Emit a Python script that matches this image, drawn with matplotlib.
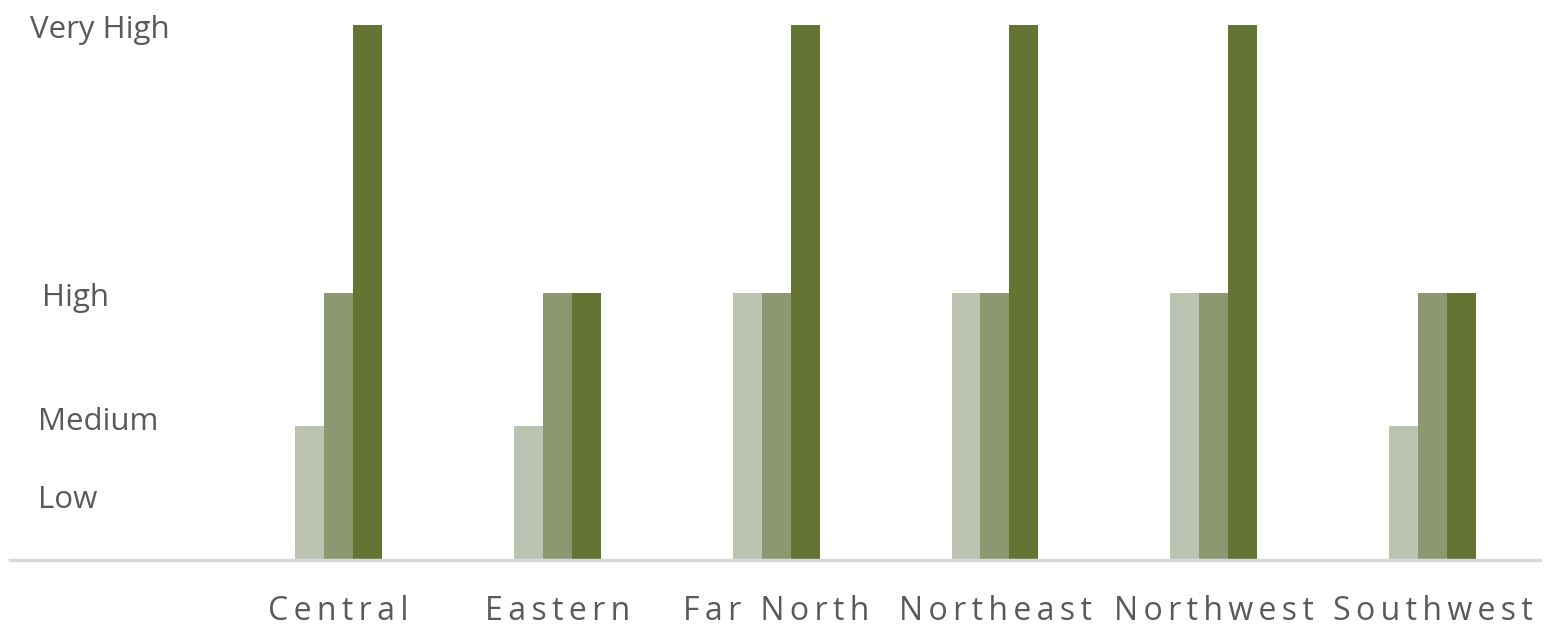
import matplotlib.pyplot as plt
import numpy as np

# Datos
regiones = ['Central', 'Eastern', 'Far North', 'Northeast', 'Northwest', 'Southwest']
serie_1 = [1, 1, 2, 2, 2, 1]
serie_2 = [2, 2, 2, 2, 2, 2]
serie_3 = [4, 2, 4, 4, 4, 2]
niveles = ['Low', 'Medium', 'High', 'Very High']
valores_niveles = [0.5, 1, 2, 4]

colores = ['#BCC3B1', '#8C9870', '#647432']
color_texto = '#5A5A5A'

plt.rcParams['font.family'] = ['Open Sans', 'DejaVu Sans']

fig = plt.figure(figsize=(15.44, 6.28), dpi=100)
ax = fig.add_axes([10 / 1544, 68 / 628, 1530 / 1544, 535 / 628])

x = np.arange(len(regiones))
ancho = 0.1324
for i, (serie, color) in enumerate(zip([serie_1, serie_2, serie_3], colores)):
    ax.bar(x + (i - 1) * ancho, serie, width=ancho, color=color, linewidth=0)

ax.set_xlim(-1.5, 5.49)
ax.set_ylim(0, 4)

# Etiquetas de niveles dentro del área de la gráfica
desplaz_x = [-1.372, -1.37, -1.352, -1.408]
desplaz_y = [-0.05, 0.03, -0.04, -0.04]
for nombre, v, dx, dy in zip(niveles, valores_niveles, desplaz_x, desplaz_y):
    ax.text(dx, v + dy, nombre, ha='left', va='center', fontsize=22.5,
            color=color_texto)

# Etiquetas de categorías con espaciado entre letras
etiquetas = ['\u2009'.join(r) for r in regiones]
ax.set_xticks(x)
ax.set_xticklabels(etiquetas, fontsize=23, color=color_texto)
ax.tick_params(axis='x', length=0, pad=25)
ax.set_yticks([])

for lado in ['top', 'right', 'left']:
    ax.spines[lado].set_visible(False)
ax.spines['bottom'].set_color('#D9D9D9')
ax.spines['bottom'].set_linewidth(2.5)

fig.savefig('out.png', dpi=100)
